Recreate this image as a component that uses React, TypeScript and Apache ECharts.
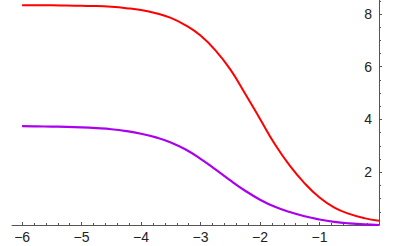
import React, { useEffect, useRef } from "react";
import * as echarts from "echarts";

const xValues = [-6, -5.75, -5.5, -5.25, -5, -4.75, -4.5, -4.25, -4, -3.75, -3.5, -3.25, -3, -2.75, -2.5, -2.25, -2, -1.75, -1.5, -1.25, -1, -0.75, -0.5, -0.25, 0];
const redValues = [8.33, 8.33, 8.33, 8.32, 8.31, 8.3, 8.27, 8.22, 8.15, 8.03, 7.85, 7.57, 7.18, 6.62, 5.9, 4.98, 4.02, 3.06, 2.25, 1.58, 1.04, 0.66, 0.42, 0.26, 0.16];
const purpleValues = [3.75, 3.74, 3.73, 3.72, 3.7, 3.67, 3.63, 3.56, 3.46, 3.32, 3.13, 2.86, 2.51, 2.11, 1.69, 1.3, 0.96, 0.69, 0.49, 0.33, 0.21, 0.12, 0.06, 0.02, 0.0];
const xTickLabels = [-6, -5, -4, -3, -2, -1];
const yTickLabels = [2, 4, 6, 8];

const X_MIN = -6.17;
const X_MAX = 0;
const Y_MIN = 0;
const Y_MAX = 8.53;

function minorTicks(from: number, to: number, step: number, major: number[]) {
  const out: number[] = [];
  const n = Math.round((to - from) / step);
  for (let i = 0; i <= n; i++) {
    const v = Math.round((from + i * step) * 100) / 100;
    if (!major.some((m) => Math.abs(m - v) < 1e-6)) out.push(v);
  }
  return out;
}

export default function App() {
  const ref = useRef<HTMLDivElement>(null);
  useEffect(() => {
    if (!ref.current) return;
    const chart = echarts.init(ref.current, undefined, { renderer: "svg" });
    const font = "Liberation Sans, Arial, sans-serif";
    const axisColor = "#555";
    const xMinor = minorTicks(-6, 0, 0.2, [...xTickLabels, 0]);
    const yMinor = minorTicks(0.5, 8.5, 0.5, yTickLabels);
    chart.setOption({
      animation: false,
      backgroundColor: "#fff",
      grid: { left: 12, right: 20, top: 0, bottom: 21, containLabel: false },
      xAxis: [
        {
          type: "value",
          min: X_MIN,
          max: X_MAX,
          position: "bottom",
          axisLine: { show: true, onZero: false, lineStyle: { color: axisColor, width: 1 } },
          axisTick: { show: true, inside: true, length: 3, customValues: xTickLabels, lineStyle: { color: axisColor } },
          axisLabel: {
            show: true,
            customValues: xTickLabels,
            margin: 5,
            fontFamily: font,
            fontSize: 14,
            color: "#222",
            formatter: (v: number) => (v < 0 ? "\u2212" + Math.abs(v) : String(v)),
          },
          splitLine: { show: false },
        },
        {
          type: "value",
          min: X_MIN,
          max: X_MAX,
          position: "bottom",
          axisLine: { show: false, onZero: false },
          axisTick: { show: true, inside: true, length: 2, customValues: xMinor, lineStyle: { color: axisColor } },
          axisLabel: { show: false },
          splitLine: { show: false },
        },
      ],
      yAxis: [
        {
          type: "value",
          min: Y_MIN,
          max: Y_MAX,
          position: "right",
          axisLine: { show: true, onZero: false, lineStyle: { color: axisColor, width: 1 } },
          axisTick: { show: true, inside: false, length: 3, customValues: yTickLabels, lineStyle: { color: axisColor } },
          axisLabel: {
            show: true,
            inside: true,
            customValues: yTickLabels,
            margin: 7,
            fontFamily: font,
            fontSize: 14,
            color: "#222",
          },
          splitLine: { show: false },
        },
        {
          type: "value",
          min: Y_MIN,
          max: Y_MAX,
          position: "right",
          axisLine: { show: false, onZero: false },
          axisTick: { show: true, inside: false, length: 2, customValues: yMinor, lineStyle: { color: axisColor } },
          axisLabel: { show: false },
          splitLine: { show: false },
        },
      ],
      series: [
        {
          type: "line",
          data: xValues.map((x, i) => [x, redValues[i]]),
          showSymbol: false,
          smooth: 0.45,
          lineStyle: { color: "#ff0000", width: 2 },
          xAxisIndex: 0,
          yAxisIndex: 0,
        },
        {
          type: "line",
          data: xValues.map((x, i) => [x, purpleValues[i]]),
          showSymbol: false,
          smooth: 0.45,
          lineStyle: { color: "#aa00ee", width: 2.2 },
          xAxisIndex: 0,
          yAxisIndex: 0,
        },
      ],
    });
    return () => chart.dispose();
  }, []);
  return (
    <div
      ref={ref}
      style={{ position: "fixed", left: 0, top: 0, width: 399, height: 246 }}
    />
  );
}
